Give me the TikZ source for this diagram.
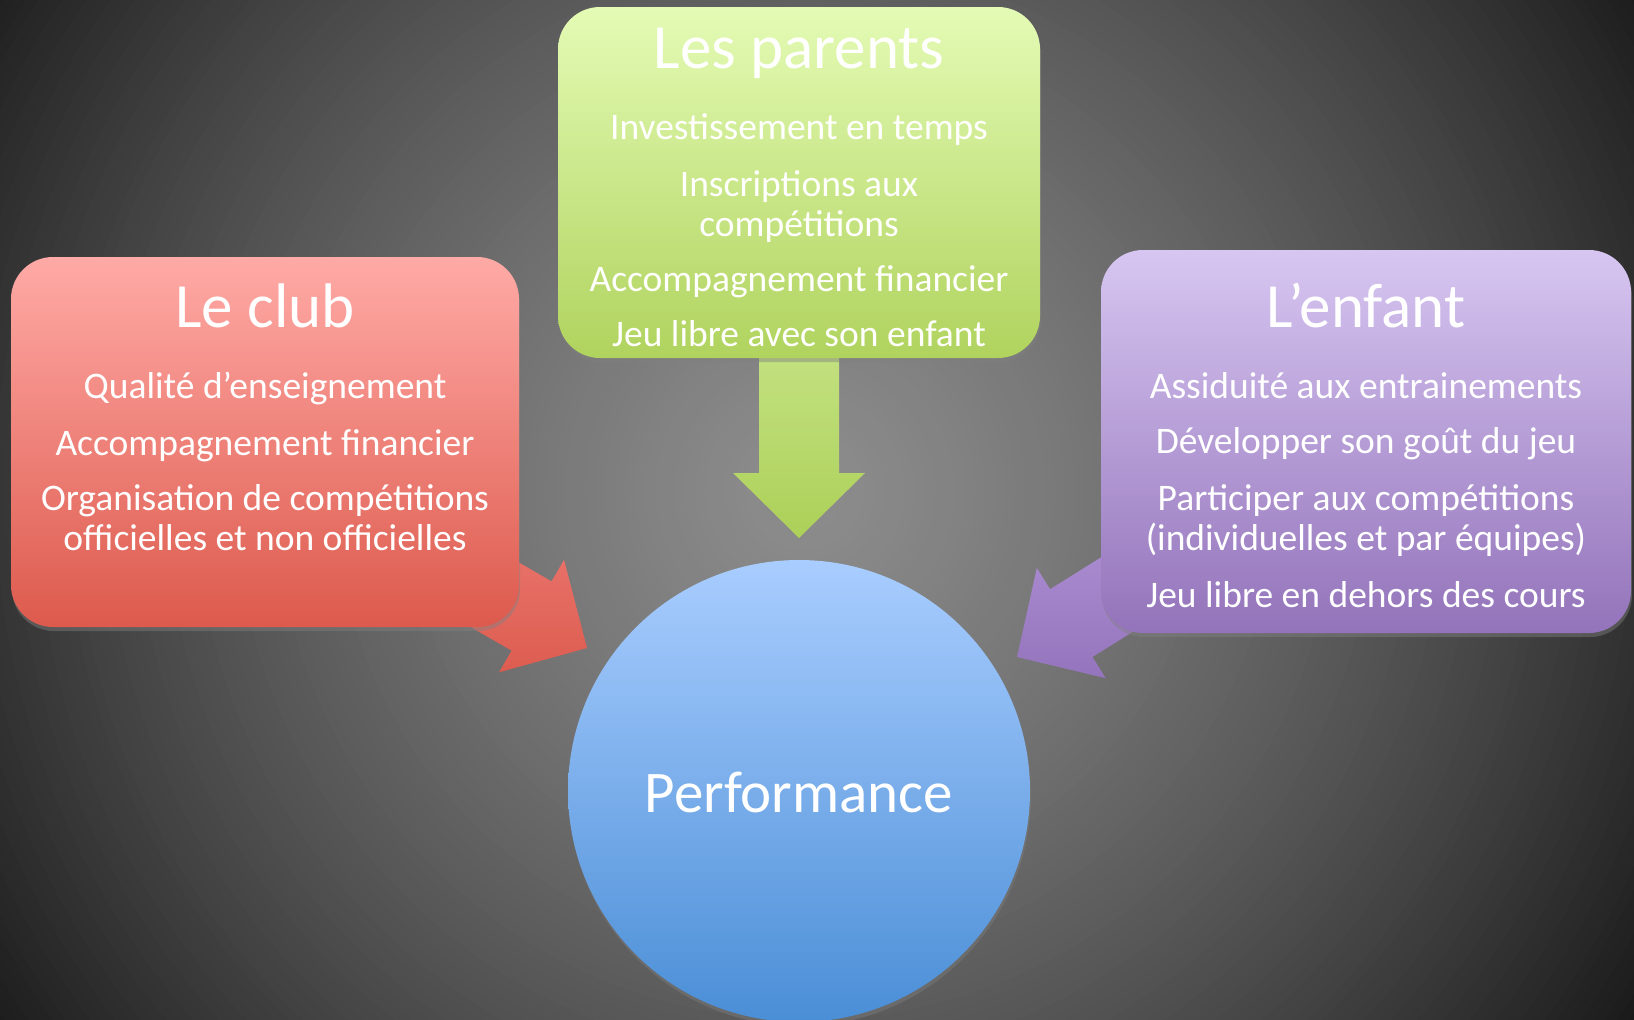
\documentclass[tikz,border=0pt]{standalone}
\usepackage{fontspec}
\setmainfont{Carlito}
\usetikzlibrary{shadows}
\definecolor{clubtop}{RGB}{255,170,166}
\definecolor{clubbot}{RGB}{221,90,77}
\definecolor{clubarrtop}{RGB}{236,122,114}
\definecolor{clubarrbot}{RGB}{221,92,80}
\definecolor{parenttop}{RGB}{228,251,181}
\definecolor{parentbot}{RGB}{176,211,94}
\definecolor{parentarrtop}{RGB}{200,229,138}
\definecolor{parentarrbot}{RGB}{172,208,88}
\definecolor{enfanttop}{RGB}{215,198,241}
\definecolor{enfantbot}{RGB}{147,115,186}
\definecolor{enfantarrtop}{RGB}{176,146,214}
\definecolor{enfantarrbot}{RGB}{148,116,188}
\definecolor{perftop}{RGB}{169,205,255}
\definecolor{perfbot}{RGB}{74,142,214}
\tikzset{
  boxstyle/.style={rounded corners=42pt, inner sep=0pt,
    drop shadow={opacity=.45, shadow xshift=1pt, shadow yshift=-4pt}},
  headtext/.style={text=white, inner sep=0pt, anchor=base, font=\fontsize{63}{74}\selectfont},
  itemtext/.style={text=white, inner sep=0pt, anchor=base, font=\fontsize{37.5}{44}\selectfont}
}
\begin{document}
\begin{tikzpicture}[x=1pt,y=-1pt]
  \useasboundingbox (0,0) rectangle (1634,1020);
  % background glow, ring by ring
  \begin{scope}
    \clip (0,0) rectangle (1634,1020);
    \foreach \k in {99,...,1} {
      \pgfmathsetmacro\g{(142-6.915*\k/10-0.4896*\k*\k/100)/255}
      \definecolor{ring}{gray}{\g}
      \fill[ring] (805,490) circle (\k*10);
    }
  \end{scope}
  % tips of the three block arrows
  \coordinate (clubtip) at (587,648);
  \coordinate (parenttip) at (799,538);
  \coordinate (enfanttip) at (1017,657);
  \begin{scope}[shift={(clubtip)},rotate=-30]
    \shade[top color=clubarrtop,bottom color=clubarrbot] (0,0) -- (-64,65) -- (-64,40) -- (-210,40) -- (-210,-40) -- (-64,-40) -- (-64,-65) -- cycle;
  \end{scope}
  \begin{scope}[shift={(parenttip)},rotate=-90]
    \shade[top color=parentarrtop,bottom color=parentarrbot] (0,0) -- (-65,66) -- (-65,40) -- (-230,40) -- (-230,-40) -- (-65,-40) -- (-65,-66) -- cycle;
  \end{scope}
  \begin{scope}[shift={(enfanttip)},rotate=212]
    \shade[top color=enfantarrtop,bottom color=enfantarrbot] (0,0) -- (-64,65) -- (-64,40) -- (-210,40) -- (-210,-40) -- (-64,-40) -- (-64,-65) -- cycle;
  \end{scope}
  % boxes
  \node[boxstyle, minimum width=508pt, minimum height=370pt, top color=clubtop, bottom color=clubbot] (club) at (265,442) {};
  \node[boxstyle, minimum width=482pt, minimum height=351pt, top color=parenttop, bottom color=parentbot] (parents) at (799,182.5) {};
  \node[boxstyle, minimum width=530pt, minimum height=383pt, top color=enfanttop, bottom color=enfantbot] (enfant) at (1366,441.5) {};
  \node[circle, minimum size=462pt, inner sep=0pt, top color=perftop, bottom color=perfbot,
    drop shadow={opacity=.4, shadow xshift=1pt, shadow yshift=-4pt}] (perf) at (799,791) {};
  % texts
  \node[headtext] (clubT) at (265,327) {Le club};
  \node[headtext] (parentsT) at (799,68) {Les parents};
  \node[headtext] (enfantT) at (1366,327) {L’enfant};
  \node[headtext, font=\fontsize{59}{70}\selectfont] (perfT) at (799,812) {Performance};
  \foreach \y/\t [count=\i] in {398/{Qualité d’enseignement}, 455/{Accompagnement financier},
      510/{Organisation de compétitions}, 550/{officielles et non officielles}}
    \node[itemtext] (club\i) at (265,\y) {\t};
  \foreach \y/\t [count=\i] in {139/{Investissement en temps}, 196/{Inscriptions aux},
      236/{compétitions}, 291/{Accompagnement financier}, 346/{Jeu libre avec son enfant}}
    \node[itemtext] (parents\i) at (799,\y) {\t};
  \foreach \y/\t [count=\i] in {398/{Assiduité aux entrainements}, 453/{Développer son goût du jeu},
      510/{Participer aux compétitions}, 550/{(individuelles et par équipes)}, 607/{Jeu libre en dehors des cours}}
    \node[itemtext] (enfant\i) at (1366,\y) {\t};
\end{tikzpicture}
\end{document}
